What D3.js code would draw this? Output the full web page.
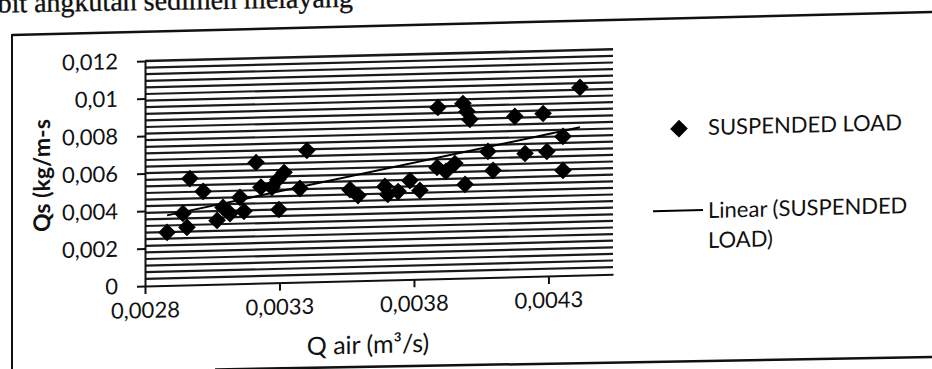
<!DOCTYPE html>
<html><head><meta charset="utf-8">
<script src="https://cdn.jsdelivr.net/npm/d3@7"></script>
<style>
html,body{margin:0;padding:0;background:#fff;}
svg{display:block;}
text{font-family:Lato,"Open Sans",sans-serif;fill:#111;}
</style></head><body>
<svg id="chart" width="932" height="369"></svg>
<script>
// ---- data ----
const pageCaption = "Debit angkutan sedimen melayang";
const seriesName = "SUSPENDED LOAD";
const trendLabelLines = ["Linear (SUSPENDED", "LOAD)"];
const xTitle = "Q air (m³/s)";
const yTitle = "Qs (kg/m-s";

// Q air (m3/s)
const qAir = [0.002882,0.002941,0.002956,0.002967,0.003016,0.003068,0.003090,0.003116,0.003153,0.003168,
              0.003213,0.003231,0.003272,0.003294,0.003317,0.003298,0.003376,0.003402,0.003562,0.003592,
              0.003692,0.003703,0.003741,0.003785,0.003822,0.003886,0.003919,0.003952,0.003990,0.003889,
              0.003982,0.003997,0.004008,0.004075,0.004094,0.004175,0.004213,0.004280,0.004294,0.004354,
              0.004354,0.004417];
// Qs suspended load (kg/m-s)
const qs   = [0.00283,0.00382,0.00307,0.00567,0.00497,0.00340,0.00409,0.00375,0.00460,0.00385,
              0.00644,0.00512,0.00509,0.00550,0.00587,0.00390,0.00500,0.00701,0.00487,0.00454,
              0.00499,0.00456,0.00470,0.00527,0.00473,0.00593,0.00571,0.00612,0.00499,0.00913,
              0.00931,0.00888,0.00845,0.00672,0.00570,0.00855,0.00656,0.00867,0.00664,0.00742,
              0.00561,0.01001];

const xDomain = [0.0028, 0.00454];
const yDomain = [0, 0.012];
const xTickValues = [0.0028, 0.0033, 0.0038, 0.0043];
const xTickLabels = ["0,0028", "0,0033", "0,0038", "0,0043"];
const yTickValues = [0, 0.002, 0.004, 0.006, 0.008, 0.01, 0.012];
const yTickLabels = ["0", "0,002", "0,004", "0,006", "0,008", "0,01", "0,012"];

// ---- layout ----
const svg = d3.select("#chart");
const ink = "#111";
const x = d3.scaleLinear().domain(xDomain).range([145, 613]);
const y = d3.scaleLinear().domain(yDomain).range([286, 61]);

// page frame (scanned page border)
svg.append("line").attr("x1", 12).attr("y1", 35).attr("x2", 932).attr("y2", 12)
   .attr("stroke", ink).attr("stroke-width", 2.5);
svg.append("line").attr("x1", 12).attr("y1", 34).attr("x2", 12).attr("y2", 369)
   .attr("stroke", ink).attr("stroke-width", 2);
svg.append("line").attr("x1", 215).attr("y1", 369.5).attr("x2", 932).attr("y2", 357)
   .attr("stroke", ink).attr("stroke-width", 2.5);

// caption above the chart (cut off by the scan)
svg.append("text").attr("transform", "translate(-35,13) rotate(-0.9)")
  .style("font-family", "'Liberation Serif','DejaVu Serif',serif")
  .style("font-size", "28px").attr("stroke", "#111").attr("stroke-width", 0.35)
  .text(pageCaption);

// the scan is slightly skewed: everything inside this group follows it
const g = svg.append("g").attr("transform", "translate(145,0) skewY(-1.43) translate(-145,0)");

// hatched plot area (narrow horizontal pattern)
const hatchStep = 6.6;
const hatchYs = d3.range(y(yDomain[1]), y(yDomain[0]) - 1, hatchStep);
g.append("g").selectAll("line").data(hatchYs).join("line")
  .attr("x1", x(xDomain[0])).attr("x2", x(xDomain[1]))
  .attr("y1", d => d).attr("y2", d => d)
  .attr("stroke", "#1a1a1a")
  .attr("stroke-width", (d, i) => i === 0 ? 2.6 : 2.2);

// axes
const xAxis = d3.axisBottom(x).tickValues(xTickValues)
  .tickFormat((d, i) => xTickLabels[i]).tickSizeInner(8).tickSizeOuter(0);
const yAxis = d3.axisLeft(y).tickValues(yTickValues)
  .tickFormat((d, i) => yTickLabels[i]).tickSizeInner(8).tickSizeOuter(0).tickPadding(19);

const gx = g.append("g").attr("transform", `translate(0,${y(0)})`).call(xAxis);
gx.selectAll("text").attr("y", 32).attr("dy", 0);
const gy = g.append("g").attr("transform", `translate(${x(xDomain[0])},0)`).call(yAxis);
[gx, gy].forEach(a => {
  a.select(".domain").attr("stroke", ink).attr("stroke-width", 2);
  a.selectAll(".tick line").attr("stroke", ink).attr("stroke-width", 2);
  a.selectAll("text").attr("fill", ink).style("font-family", "Lato,sans-serif").style("font-size", "22px");
});

// points
const diamond = d3.symbol(d3.symbolSquare, 156);
g.append("g").selectAll("path").data(qAir).join("path")
  .attr("d", diamond)
  .attr("transform", (d, i) => `translate(${x(d)},${y(qs[i])}) rotate(45)`)
  .attr("fill", "#000");

// linear trendline (least squares on the data)
const mx = d3.mean(qAir), my = d3.mean(qs);
const slope = d3.sum(qAir, (v, i) => (v - mx) * (qs[i] - my)) / d3.sum(qAir, v => (v - mx) ** 2);
const icpt = my - slope * mx;
const [xa, xb] = d3.extent(qAir);
g.append("line")
  .attr("x1", x(xa)).attr("y1", y(icpt + slope * xa))
  .attr("x2", x(xb)).attr("y2", y(icpt + slope * xb))
  .attr("stroke", "#000").attr("stroke-width", 2);

// axis titles
g.append("text").attr("x", 368).attr("y", 359).attr("text-anchor", "middle")
  .style("font-size", "25px").text(xTitle);
g.append("text").attr("transform", "translate(41,173) rotate(-90)")
  .attr("text-anchor", "middle").attr("dominant-baseline", "central")
  .style("font-size", "23px").style("font-weight", "bold").text(yTitle);

// legend
const lg = g.append("g");
lg.append("path").attr("d", diamond).attr("transform", "translate(679,142) rotate(45)").attr("fill", "#000");
lg.append("text").attr("x", 708).attr("y", 149).style("font-size", "22px").text(seriesName);
lg.append("line").attr("x1", 653).attr("x2", 703).attr("y1", 224).attr("y2", 224)
  .attr("stroke", "#000").attr("stroke-width", 2);
lg.selectAll("text.tl").data(trendLabelLines).join("text").attr("class", "tl")
  .attr("x", 708).attr("y", (d, i) => 232 + i * 30).style("font-size", "22px").text(d => d);
</script>
</body></html>
